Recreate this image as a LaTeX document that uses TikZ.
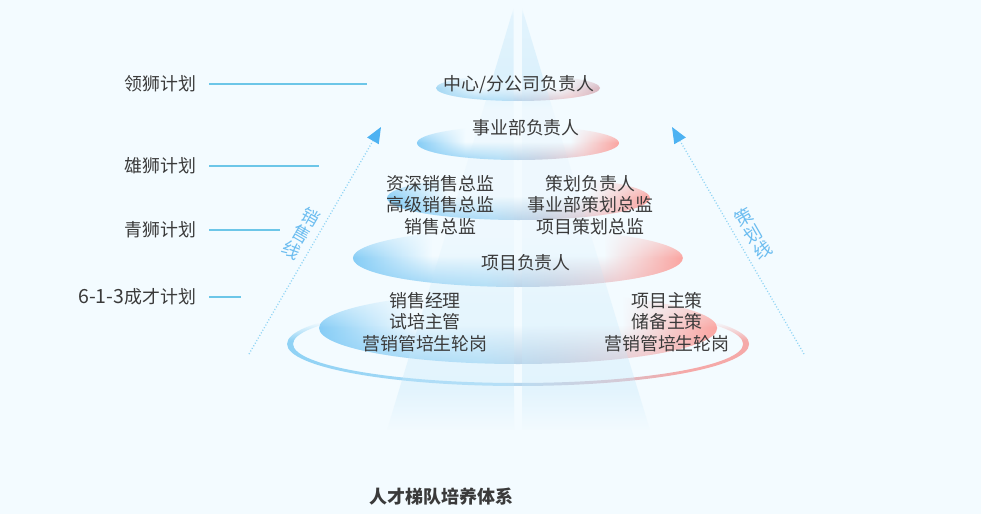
\documentclass[tikz,border=0pt]{standalone}
\usepackage{fontspec}
\setmainfont{Noto Sans CJK SC}
\usetikzlibrary{fadings,arrows.meta}

\definecolor{pagebg}{HTML}{F3FBFF}
\definecolor{beamblue}{HTML}{C4E7FA}
\definecolor{leadblue}{HTML}{6CC6E8}
\definecolor{dotblue}{HTML}{8FD4F5}
\definecolor{sideblue}{HTML}{6CBDF0}
\definecolor{tipblue}{HTML}{4DB2F2}
\definecolor{textgray}{HTML}{3A3A3A}
\definecolor{discblue}{HTML}{86CDF6}
\definecolor{discpink}{HTML}{FBA5A1}
\definecolor{dullblue}{HTML}{A4D8F4}
\definecolor{dullpink}{HTML}{D9B7C0}
\definecolor{basemid}{HTML}{AEDCF6}
\definecolor{basegray}{HTML}{C6CEDF}
\definecolor{baserose}{HTML}{F0C6C9}
\definecolor{ringblue}{HTML}{8FD2F5}
\definecolor{ringpink}{HTML}{F5A9A8}

\pgfdeclarehorizontalshading{discedge}{100bp}{
  color(0bp)=(discblue); color(25bp)=(discblue); color(37bp)=(pagebg); color(63bp)=(pagebg);
  color(75bp)=(discpink); color(100bp)=(discpink)}
\pgfdeclarehorizontalshading{topedge}{100bp}{
  color(0bp)=(dullblue); color(25bp)=(dullblue); color(37bp)=(pagebg); color(63bp)=(pagebg);
  color(75bp)=(dullpink); color(100bp)=(dullpink)}
\pgfdeclarehorizontalshading{discbase}{100bp}{
  color(0bp)=(discblue); color(25bp)=(discblue); color(45bp)=(basemid);
  color(55bp)=(basegray); color(66bp)=(baserose); color(75bp)=(discpink); color(100bp)=(discpink)}
\pgfdeclarehorizontalshading{topbase}{100bp}{
  color(0bp)=(dullblue); color(25bp)=(dullblue); color(45bp)=(basemid);
  color(55bp)=(basegray); color(66bp)=(baserose); color(75bp)=(dullpink); color(100bp)=(dullpink)}
\pgfdeclarehorizontalshading{ringshade}{100bp}{
  color(0bp)=(ringblue); color(25bp)=(ringblue); color(48bp)=(basemid);
  color(54bp)=(basegray); color(68bp)=(ringpink); color(100bp)=(ringpink)}

\pgfdeclareverticalshading{edgestops}{100bp}{
  color(0bp)=(transparent!0); color(50bp)=(transparent!0); color(75bp)=(transparent!75);
  color(100bp)=(transparent!75)}
\pgfdeclarefading{edgefade}{\pgfuseshading{edgestops}}
\pgfdeclareverticalshading{discstops}{100bp}{
  color(0bp)=(transparent!0); color(25bp)=(transparent!0); color(52bp)=(transparent!100);
  color(100bp)=(transparent!100)}
\pgfdeclarefading{discfade}{\pgfuseshading{discstops}}
\pgfdeclareverticalshading{beamstops}{100bp}{
  color(0bp)=(transparent!100); color(25bp)=(transparent!100); color(30bp)=(transparent!50);
  color(40bp)=(transparent!60); color(48bp)=(transparent!85); color(63bp)=(transparent!85);
  color(67bp)=(transparent!30); color(74bp)=(transparent!50); color(75bp)=(transparent!100);
  color(100bp)=(transparent!100)}
\pgfdeclarefading{beamfade}{\pgfuseshading{beamstops}}
\pgfdeclareverticalshading{ringstops}{100bp}{
  color(0bp)=(transparent!0); color(52bp)=(transparent!0); color(63bp)=(transparent!100);
  color(100bp)=(transparent!100)}
\pgfdeclarefading{ringfade}{\pgfuseshading{ringstops}}

\tikzset{
  discedge/.style={shading=discedge, path fading=edgefade},
  discbase/.style={shading=discbase, path fading=discfade},
  topedge/.style={shading=topedge, path fading=edgefade},
  topbase/.style={shading=topbase, path fading=discfade},
  ringband/.style={shading=ringshade, even odd rule, path fading=ringfade},
  beam/.style={fill=beamblue, path fading=beamfade, fill opacity=0.7},
  leader/.style={leadblue, line width=1.2pt},
  sideline/.style={dotblue, line width=1.3pt, dash pattern=on 1pt off 2pt, -{Triangle[length=16pt,width=13pt,color=tipblue]}},
  planlabel/.style={anchor=east, inner sep=0pt, outer xsep=13pt, text=textgray, font=\fontsize{17.9}{21}\selectfont},
  rolelabel/.style={inner sep=0pt, align=center, text=textgray, font=\fontsize{17.9}{21.5}\selectfont},
  sidelabel/.style={inner sep=0pt, align=center, text=sideblue, font=\fontsize{17.9}{19}\selectfont},
}

\begin{document}
\begin{tikzpicture}[x=1pt,y=-1pt]
  \fill[pagebg] (0,0) rectangle (981,514);
  \useasboundingbox (0,0) rectangle (981,514);

  % ring under the lowest disc
  \shade[ringband] (518,344) ellipse [x radius=231, y radius=42] (518,344) ellipse [x radius=225, y radius=39];

  % discs
  \shade[topedge] (518,88) ellipse [x radius=82, y radius=13];
  \shade[topbase] (518,88) ellipse [x radius=82, y radius=13];
  \shade[discedge] (518,143) ellipse [x radius=101, y radius=17];
  \shade[discbase] (518,143) ellipse [x radius=101, y radius=17];
  \shade[discedge] (518.5,198) ellipse [x radius=131.5, y radius=22];
  \shade[discbase] (518.5,198) ellipse [x radius=131.5, y radius=22];
  \shade[discedge] (518,258) ellipse [x radius=165, y radius=29];
  \shade[discbase] (518,258) ellipse [x radius=165, y radius=29];
  \fill[pagebg] (518,328) ellipse [x radius=199, y radius=36];
  \shade[discedge] (518,328) ellipse [x radius=199, y radius=36];
  \shade[discbase] (518,328) ellipse [x radius=199, y radius=36];

  % light beams
  \fill[beam] (513.5,8) -- (387,430) -- (514,430) -- cycle;
  \fill[beam] (522,8) -- (650,430) -- (522,430) -- cycle;

  % ladder names on the left
  \node[planlabel] (lingshi) at (209,84) {领狮计划};
  \node[planlabel] (xiongshi) at (209,166) {雄狮计划};
  \node[planlabel] (qingshi) at (209,230) {青狮计划};
  \node[planlabel] (chengcai) at (209,297) {{\fontsize{19.5}{21}\selectfont 6-1-3}成才计划};
  \coordinate (lingend) at (367,84);
  \coordinate (xiongend) at (319,166);
  \coordinate (qingend) at (280,230);
  \coordinate (chengend) at (241,297);
  \draw[leader] (lingshi) -- (lingend);
  \draw[leader] (xiongshi) -- (xiongend);
  \draw[leader] (qingshi) -- (qingend);
  \draw[leader] (chengcai) -- (chengend);

  % roles
  \node[rolelabel] (center) at (519,85) {中心/分公司负责人};
  \node[rolelabel] (division) at (526,128) {事业部负责人};
  \node[rolelabel] (salesdir) at (440.5,205) {资深销售总监\\高级销售总监\\销售总监};
  \node[rolelabel] (plandir) at (590.5,205) {策划负责人\\事业部策划总监\\项目策划总监};
  \node[rolelabel] (project) at (526,263) {项目负责人};
  \node[rolelabel] (salesmgr) at (425,322) {销售经理\\试培主管\\营销管培生轮岗};
  \node[rolelabel] (planmgr) at (667,322) {项目主策\\储备主策\\营销管培生轮岗};

  % the two lines
  \coordinate (salesfoot) at (249,354);
  \coordinate (salestop) at (381,127);
  \coordinate (planfoot) at (804,354);
  \coordinate (plantop) at (672,127);
  \draw[sideline] (salesfoot) -- (salestop);
  \draw[sideline] (planfoot) -- (plantop);
  \node[sidelabel, rotate=-30] (salesline) at (301.5,234) {销\\售\\线};
  \node[sidelabel, rotate=30] (planline) at (753,234) {策\\划\\线};

  \node[inner sep=0pt, text=textgray, font=\fontsize{18}{21}\selectfont\bfseries] (title) at (441,497) {人才梯队培养体系};
\end{tikzpicture}
\end{document}
